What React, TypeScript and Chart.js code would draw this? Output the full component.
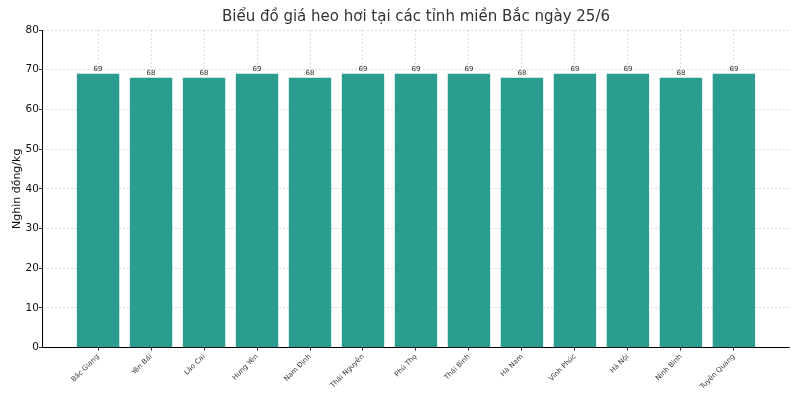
import { useEffect, useRef } from 'react'
import { Chart, registerables, Plugin } from 'chart.js'
Chart.register(...registerables)

const PROVINCES = ['Bắc Giang','Yên Bái','Lào Cai','Hưng Yên','Nam Định','Thái Nguyên','Phú Thọ','Thái Bình','Hà Nam','Vĩnh Phúc','Hà Nội','Ninh Bình','Tuyên Quang']
const PRICES = [69,68,68,69,68,69,69,69,68,69,69,68,69]
const Y_TICKS = [0,10,20,30,40,50,60,70,80]

const FONT = "'DejaVu Sans', sans-serif"

// số trên đầu cột
const barValues: Plugin<'bar'> = {
  id: 'barValues',
  afterDatasetsDraw(chart) {
    const { ctx } = chart
    const meta = chart.getDatasetMeta(0)
    ctx.save()
    ctx.font = `7px ${FONT}`
    ctx.fillStyle = '#333'
    ctx.textAlign = 'center'
    ctx.textBaseline = 'bottom'
    meta.data.forEach((bar, i) => {
      ctx.fillText(String(PRICES[i]), bar.x, bar.y - 1)
    })
    ctx.restore()
  }
}

export default function App() {
  const ref = useRef<HTMLCanvasElement>(null)

  useEffect(() => {
    if (!ref.current) return
    const gc = 'rgba(176,176,176,0.75)'
    const chart = new Chart(ref.current, {
      type: 'bar',
      data: {
        datasets: [{
          data: PRICES.map((p, i) => ({ x: i, y: p })),
          backgroundColor: '#2a9d8f',
          borderWidth: 0,
          barPercentage: 0.8,
          categoryPercentage: 1,
        }]
      },
      options: {
        animation: false,
        responsive: true,
        maintainAspectRatio: false,
        layout: { padding: { left: 6, right: 11, top: 4, bottom: 7 } },
        plugins: {
          legend: { display: false },
          tooltip: { enabled: false },
          title: {
            display: true, fullSize: false,
            text: 'Biểu đồ giá heo hơi tại các tỉnh miền Bắc ngày 25/6',
            color: '#333', font: { size: 15, family: FONT, weight: 'normal' },
            padding: { top: 4, bottom: 4 }
          }
        },
        scales: {
          x: {
            type: 'linear', min: -1.04, max: 13.04, z: 1, offset: false, bounds: 'data',
            afterBuildTicks: (s) => { s.ticks = PROVINCES.map((_, i) => ({ value: i })) },
            grid: { offset: false, color: gc, lineWidth: 0.6, tickColor: '#000', tickLength: 3, tickWidth: 0.8 },
            border: { display: true, color: '#000', width: 1, dash: [2, 2] },
            ticks: {
              autoSkip: false, minRotation: 45, maxRotation: 45, color: '#333', padding: 2,
              font: { size: 7, family: FONT },
              callback: (v) => PROVINCES[v as number] ?? ''
            }
          },
          y: {
            min: 0, max: 80, z: 1,
            afterBuildTicks: (s) => { s.ticks = Y_TICKS.map(v => ({ value: v })) },
            grid: { color: gc, lineWidth: 0.6, tickColor: '#000', tickLength: 4, tickWidth: 0.8 },
            border: { display: true, color: '#000', width: 1, dash: [2, 2] },
            ticks: { color: '#111', padding: 0, font: { size: 10.5, family: FONT } },
            title: { display: true, text: 'Nghìn đồng/kg', color: '#111', font: { size: 11, family: FONT }, padding: { top: 4.4, bottom: 2 } }
          }
        }
      },
      plugins: [barValues]
    })
    return () => chart.destroy()
  }, [])

  return (
    <div style={{ position: 'fixed', left: 0, top: 0, width: 800, height: 400, background: '#fff' }}>
      <canvas ref={ref} />
    </div>
  )
}
